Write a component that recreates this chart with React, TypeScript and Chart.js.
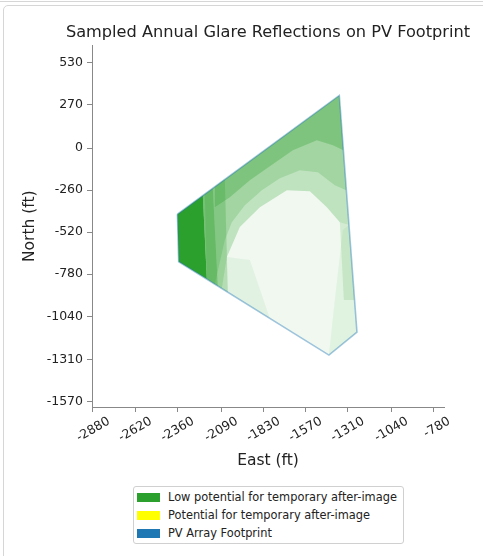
import React, { useEffect, useRef } from 'react';
import { Chart, registerables } from 'chart.js';

Chart.register(...registerables);

// ---- data (feet) ----
const chartTitle = 'Sampled Annual Glare Reflections on PV Footprint';
const xTickValues = [-2880, -2620, -2360, -2090, -1830, -1570, -1310, -1040, -780];
const yTickValues = [530, 270, 0, -260, -520, -780, -1040, -1310, -1570];
const xLimits = [-2886, -714];
const yLimits = [-1601, 635];

// PV array footprint outline
const footprintEast = [-2359, -1360, -1251, -1424, -2351, -2359];
const footprintNorth = [-409, 326, -1138, -1280, -703, -409];

// glare reflection density layers (low potential for after-image)
const glareWashEast = [-2359, -1360, -1251, -1424, -2351];
const glareWashNorth = [-409, 326, -1138, -1280, -703];
const glareUpperEast = [-2202, -1360, -1301, -1356.5, -1436.8, -1541.7, -1683.7, -1850.3, -1973.8, -2054, -2085, -2177.5];
const glareUpperNorth = [-293.5, 326, -476, -457.7, -365, -266.3, -260.1, -365, -488.5, -673.7, -868.6, -810];
const glareMidEast = [-2189.9, -1360, -1317, -1387.4, -1492.3, -1603.4, -1726.9, -1838, -1943, -2023.2, -2066.4, -2128.1, -2177.5];
const glareMidNorth = [-284.6, 326, -260.1, -229.3, -149, -136.7, -186.1, -260.1, -352.7, -457.7, -568.8, -841.7, -810];
const glareEdgeEast = [-2128.1, -1360, -1335, -1399.7, -1498.5, -1646.6, -1788.6, -1912.1, -2035.5, -2128.1];
const glareEdgeNorth = [-239.1, 326, -13.2, 17.6, 48.5, -13.2, -112, -198.4, -303.4, -365];
const glareRightEast = [-1356.5, -1301, -1266.4, -1331.9];
const glareRightNorth = [-457.7, -476, -939, -939];
const glareRightLowEast = [-1301, -1251, -1424, -1387.4, -1338];
const glareRightLowNorth = [-476, -1138, -1280, -939.2, -507];
const glareLowLeftEast = [-2085, -1788.6, -1912.1, -2054];
const glareLowLeftNorth = [-868.6, -1053, -692.3, -673.7];
const glareFade2East = [-2140.5, -2066.4, -2047.9, -2109.6];
const glareFade2North = [-248.2, -193.7, -891.7, -853.2];
const glareFade1East = [-2202, -2140.5, -2109.6, -2177.5];
const glareFade1North = [-293.5, -248.2, -853.2, -810];
const glareCoreEast = [-2359, -2202, -2177.5, -2351];
const glareCoreNorth = [-409, -293.5, -810, -703];

const legendLabels = [
  'Low potential for temporary after-image',
  'Potential for temporary after-image',
  'PV Array Footprint',
];

const FONT = 'DejaVu Sans';
const green = (a: number) => `rgba(44,160,44,${a})`;
const pts = (e: number[], n: number[]) => e.map((x, i) => ({ x, y: n[i] }));

function glareLayer(e: number[], n: number[], alpha: number, order: number) {
  return {
    label: legendLabels[0],
    data: pts(e, n),
    borderWidth: 0,
    borderColor: 'rgba(0,0,0,0)',
    backgroundColor: green(alpha),
    fill: 'shape',
    pointRadius: 0,
    tension: 0,
    order,
  };
}

// let the (axes-centred) title use more width than the plot area so it is not squeezed
const titleWidener = {
  id: 'titleWidener',
  afterLayout(chart: any) {
    const t = chart.titleBlock;
    if (!t) return;
    t.left = chart.chartArea.left - 40;
    t.right = chart.chartArea.right + 40;
    t.width = t.right - t.left;
  },
};

export default function App() {
  const ref = useRef<HTMLCanvasElement>(null);

  useEffect(() => {
    const canvas = ref.current;
    if (!canvas) return;
    const chart = new Chart(canvas, {
      type: 'line',
      data: {
        datasets: [
          {
            label: legendLabels[2],
            data: pts(footprintEast, footprintNorth),
            borderColor: 'rgba(31,119,180,0.42)',
            borderWidth: 1.6,
            backgroundColor: 'rgba(0,0,0,0)',
            fill: false,
            pointRadius: 0,
            tension: 0,
            order: 0,
          },
          {
            label: legendLabels[1],
            data: [],
            borderColor: '#ffff00',
            backgroundColor: '#ffff00',
            pointRadius: 0,
            order: 1,
          },
          glareLayer(glareCoreEast, glareCoreNorth, 1, 2),
          glareLayer(glareFade1East, glareFade1North, 0.5, 3),
          glareLayer(glareFade2East, glareFade2North, 0.25, 4),
          glareLayer(glareEdgeEast, glareEdgeNorth, 0.3, 5),
          glareLayer(glareMidEast, glareMidNorth, 0.2, 6),
          glareLayer(glareRightEast, glareRightNorth, 0.15, 7),
          glareLayer(glareRightLowEast, glareRightLowNorth, 0.08, 8),
          glareLayer(glareLowLeftEast, glareLowLeftNorth, 0.07, 9),
          glareLayer(glareUpperEast, glareUpperNorth, 0.25, 10),
          glareLayer(glareWashEast, glareWashNorth, 0.07, 11),
        ] as any,
      },
      options: {
        responsive: false,
        animation: false,
        devicePixelRatio: 1,
        layout: { padding: { left: 0, right: 39, top: 0, bottom: 0 } },
        plugins: {
          legend: { display: false },
          tooltip: { enabled: false },
          title: {
            display: true,
            text: chartTitle,
            fullSize: false,
            color: '#222',
            font: { family: FONT, size: 16.2, weight: 'normal' },
            padding: { top: 23, bottom: 3 },
          },
        },
        scales: {
          x: {
            type: 'linear',
            min: xLimits[0],
            max: xLimits[1],
            afterBuildTicks: (s: any) => {
              s.ticks = xTickValues.map((v) => ({ value: v }));
            },
            afterFit: (s: any) => {
              s.height = 73;
            },
            ticks: {
              callback: (v: any) => String(v),
              minRotation: 30,
              maxRotation: 30,
              autoSkip: false,
              labelOffset: 16,
              padding: 2,
              color: '#222',
              font: { family: FONT, size: 12.5 },
            },
            grid: { drawOnChartArea: false, drawTicks: true, tickLength: 5, color: '#888' },
            border: { display: true, color: '#888' },
            title: {
              display: true,
              text: 'East (ft)',
              color: '#222',
              font: { family: FONT, size: 15.5 },
              padding: { top: 0, bottom: 10 },
            },
          },
          y: {
            type: 'linear',
            min: yLimits[0],
            max: yLimits[1],
            afterBuildTicks: (s: any) => {
              s.ticks = yTickValues.map((v) => ({ value: v }));
            },
            afterFit: (s: any) => {
              s.width = 92;
            },
            ticks: {
              callback: (v: any) => String(v),
              autoSkip: false,
              padding: 4,
              color: '#222',
              font: { family: FONT, size: 12.5 },
            },
            grid: { drawOnChartArea: false, drawTicks: true, tickLength: 5, color: '#888' },
            border: { display: true, color: '#888' },
            title: {
              display: true,
              text: 'North (ft)',
              color: '#222',
              font: { family: FONT, size: 15.5 },
              padding: { top: 21, bottom: 0 },
            },
          },
        },
      } as any,
      plugins: [titleWidener],
    });
    return () => chart.destroy();
  }, []);

  const swatches = ['#2ca02c', '#ffff00', '#1f77b4'];

  return (
    <div style={{ position: 'fixed', left: 0, top: 0, width: 483, height: 556, overflow: 'hidden', background: '#fff', fontFamily: FONT }}>
      <div style={{ position: 'absolute', left: -8, top: -12, width: 500, height: 12, border: '1px solid #d6d6d6', borderRadius: 5 }} />
      <div style={{ position: 'absolute', left: 3, top: 5, width: 500, height: 570, border: '1px solid #d6d6d6', borderRadius: 5 }} />
      <canvas ref={ref} width={483} height={480} style={{ position: 'absolute', left: 0, top: 0, width: 483, height: 480 }} />
      <div style={{ position: 'absolute', left: 133, top: 486, width: 269, height: 56, border: '1px solid #d0d0d0', borderRadius: 3, background: '#fff' }}>
        {legendLabels.map((lab, i) => (
          <div key={lab} style={{ position: 'absolute', left: 0, top: 1 + i * 18, height: 18, width: 269 }}>
            <div style={{ position: 'absolute', left: 3, top: 5, width: 23, height: 9, background: swatches[i] }} />
            <div style={{ position: 'absolute', left: 34, top: 0, lineHeight: '18px', fontSize: 11.4, color: '#222', whiteSpace: 'nowrap' }}>{lab}</div>
          </div>
        ))}
      </div>
    </div>
  );
}
